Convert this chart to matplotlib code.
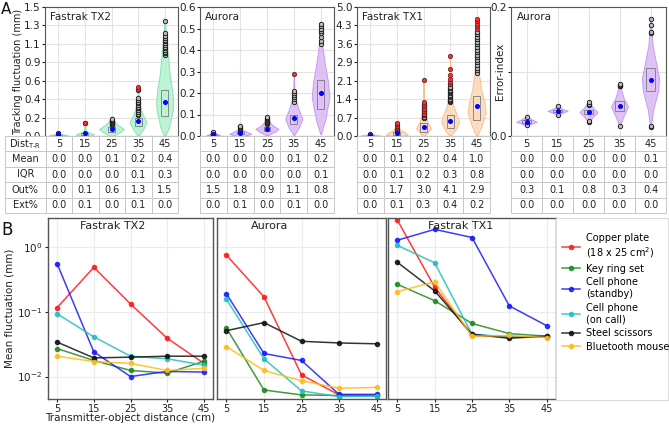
import numpy as np
import matplotlib
matplotlib.use('Agg')
import matplotlib.pyplot as plt
from matplotlib.patches import Rectangle

W, H = 669, 425

DIST = [5, 15, 25, 35, 45]
POS = [1, 2, 3, 4, 5]

# ---------------- panel A: violin shapes (y coords, relative half-width) ----------------
TX2_SHAPES = [
    ([0.0, 0.01, 0.02, 0.03], [0.3, 1.0, 0.4, 0.05]),
    ([0.0, 0.02, 0.04, 0.06, 0.15], [0.6, 1.0, 0.5, 0.1, 0.02]),
    ([0.0, 0.04, 0.08, 0.13, 0.18, 0.23], [0.1, 0.6, 1.0, 0.5, 0.15, 0.03]),
    ([0.0, 0.08, 0.16, 0.25, 0.35, 0.45, 0.57], [0.05, 0.6, 1.0, 0.55, 0.2, 0.06, 0.02]),
    ([0.0, 0.1, 0.3, 0.4, 0.55, 0.7, 0.9, 1.1, 1.34], [0.05, 0.5, 0.95, 1.0, 0.85, 0.6, 0.4, 0.2, 0.03]),
]
TX2_WIDTHS = [0.68, 0.68, 0.94, 0.64, 0.64]
TX2_BOX = [(0.0, 0.01), (0.01, 0.03), (0.05, 0.1), (0.12, 0.21), (0.23, 0.53)]
TX2_MEAN = [0.02, 0.03, 0.08, 0.175, 0.40]
TX2_OUT = [
    [0.03],
    [0.15],
    [0.13, 0.14, 0.15, 0.16, 0.17, 0.18, 0.19, 0.2],
    [0.24, 0.26, 0.28, 0.3, 0.32, 0.34, 0.36, 0.38, 0.4, 0.42, 0.44, 0.53],
    [0.94, 0.96, 0.98, 1.0, 1.02, 1.04, 1.06, 1.08, 1.1, 1.12, 1.14, 1.16, 1.2, 1.34],
]
TX2_EXT = [[], [0.15], [], [0.55, 0.57], []]

AUR_SHAPES = [
    ([0.0, 0.005, 0.01, 0.02], [0.4, 1.0, 0.4, 0.05]),
    ([0.0, 0.01, 0.02, 0.03, 0.045], [0.3, 1.0, 0.6, 0.15, 0.03]),
    ([0.005, 0.02, 0.033, 0.05, 0.07, 0.09], [0.1, 0.7, 1.0, 0.5, 0.15, 0.03]),
    ([0.005, 0.04, 0.08, 0.12, 0.17, 0.22, 0.29], [0.05, 0.6, 1.0, 0.6, 0.2, 0.05, 0.02]),
    ([0.01, 0.08, 0.18, 0.25, 0.33, 0.42, 0.52], [0.05, 0.55, 1.0, 0.85, 0.5, 0.2, 0.03]),
]
AUR_WIDTHS = [0.5, 0.82, 0.85, 0.64, 0.66]
AUR_BOX = [(0.003, 0.01), (0.01, 0.02), (0.025, 0.04), (0.055, 0.10), (0.125, 0.26)]
AUR_MEAN = [0.008, 0.015, 0.034, 0.083, 0.2]
AUR_OUT = [
    [0.012, 0.016, 0.02],
    [0.025, 0.03, 0.035, 0.04, 0.045],
    [0.055, 0.06, 0.065, 0.07, 0.075, 0.08, 0.085, 0.09],
    [0.16, 0.17, 0.18, 0.19, 0.2, 0.21],
    [0.43, 0.44, 0.46, 0.48, 0.49, 0.5, 0.51, 0.52],
]
AUR_EXT = [[], [], [], [0.29], []]

TX1_SHAPES = [
    ([0.0, 0.03, 0.06, 0.1], [0.4, 1.0, 0.3, 0.05]),
    ([0.0, 0.05, 0.12, 0.25, 0.4, 0.5], [0.5, 1.0, 0.8, 0.3, 0.1, 0.03]),
    ([0.0, 0.15, 0.3, 0.5, 0.8, 1.2, 1.6, 2.17], [0.05, 0.6, 1.0, 0.6, 0.25, 0.08, 0.03, 0.02]),
    ([0.0, 0.25, 0.55, 0.85, 1.2, 1.6, 2.2, 3.1], [0.05, 0.6, 1.0, 0.7, 0.35, 0.12, 0.04, 0.02]),
    ([0.0, 0.4, 0.9, 1.3, 1.8, 2.4, 3.0, 3.5, 4.5], [0.05, 0.55, 1.0, 0.85, 0.5, 0.25, 0.1, 0.04, 0.02]),
]
TX1_WIDTHS = [0.68, 0.82, 0.56, 0.68, 0.68]
TX1_BOX = [(0.01, 0.05), (0.05, 0.15), (0.17, 0.5), (0.3, 0.82), (0.63, 1.54)]
TX1_MEAN = [0.04, 0.13, 0.33, 0.6, 1.15]
TX1_OUT = [
    [0.07],
    [0.2, 0.25],
    [0.7, 0.75, 0.8, 0.85, 0.9, 0.95, 1.0, 1.05, 1.1, 1.15, 1.2],
    [1.3, 1.35, 1.4, 1.45, 1.5, 1.55, 1.6, 1.65, 1.7, 1.75, 1.8, 1.85, 1.9, 2.0],
    [2.45, 2.55, 2.65, 2.75, 2.85, 2.95, 3.05, 3.15, 3.25, 3.35, 3.45, 3.55, 3.65, 3.75, 3.85, 3.95, 4.05],
]
TX1_EXT = [
    [],
    [0.3, 0.35, 0.4, 0.45, 0.5],
    [0.85, 0.95, 1.05, 1.15, 1.25, 1.3, 2.17],
    [2.0, 2.1, 2.2, 2.35, 2.6, 3.1],
    [4.15, 4.25, 4.35, 4.45, 4.55],
]

ERR_SHAPES = [
    ([0.016, 0.019, 0.022, 0.026, 0.03], [0.05, 0.5, 1.0, 0.5, 0.05]),
    ([0.033, 0.036, 0.039, 0.042, 0.046], [0.05, 0.5, 1.0, 0.5, 0.05]),
    ([0.022, 0.03, 0.037, 0.044, 0.053], [0.05, 0.5, 1.0, 0.5, 0.05]),
    ([0.016, 0.03, 0.046, 0.06, 0.08], [0.03, 0.45, 1.0, 0.45, 0.03]),
    ([0.012, 0.04, 0.07, 0.09, 0.11, 0.14, 0.18], [0.03, 0.3, 0.9, 1.0, 0.7, 0.25, 0.03]),
]
ERR_WIDTHS = [0.65, 0.65, 0.58, 0.55, 0.55]
ERR_BOX = [(0.02, 0.025), (0.037, 0.041), (0.034, 0.041), (0.038, 0.055), (0.07, 0.105)]
ERR_MEAN = [0.022, 0.039, 0.037, 0.046, 0.087]
ERR_OUT = [
    [0.017, 0.029],
    [0.033, 0.047],
    [0.022, 0.024, 0.048, 0.05, 0.053],
    [0.016, 0.077, 0.078, 0.079, 0.08],
    [0.014, 0.015, 0.16, 0.162, 0.172, 0.182],
]
ERR_EXT = [[], [], [], [], []]

# table rows (Mean, IQR, Out%, Ext%)
ROW_NAMES = ['Mean', 'IQR', 'Out%', 'Ext%']
TX2_TAB = [[0.0, 0.0, 0.1, 0.2, 0.4], [0.0, 0.0, 0.0, 0.1, 0.3],
           [0.0, 0.1, 0.6, 1.3, 1.5], [0.0, 0.1, 0.0, 0.1, 0.0]]
AUR_TAB = [[0.0, 0.0, 0.0, 0.1, 0.2], [0.0, 0.0, 0.0, 0.0, 0.1],
           [1.5, 1.8, 0.9, 1.1, 0.8], [0.0, 0.1, 0.0, 0.1, 0.0]]
TX1_TAB = [[0.0, 0.1, 0.2, 0.4, 1.0], [0.0, 0.1, 0.2, 0.3, 0.8],
           [0.0, 1.7, 3.0, 4.1, 2.9], [0.0, 0.1, 0.3, 0.4, 0.2]]
ERR_TAB = [[0.0, 0.0, 0.0, 0.0, 0.1], [0.0, 0.0, 0.0, 0.0, 0.0],
           [0.3, 0.1, 0.8, 0.3, 0.4], [0.0, 0.0, 0.0, 0.0, 0.0]]

# ---------------- panel B: mean fluctuation (mm) ----------------
OBJECTS = ['Copper plate\n(18 x 25 cm$^2$)', 'Key ring set', 'Cell phone\n(standby)',
           'Cell phone\n(on call)', 'Steel scissors', 'Bluetooth mouse']
OBJ_COLORS = ['#ff1a1a', '#1f8a1f', '#1a1aff', '#1fbfbf', '#111111', '#ffbb1a']

B_TX2 = [
    [0.116, 0.485, 0.132, 0.039, 0.016],
    [0.027, 0.0177, 0.0124, 0.0113, 0.0172],
    [0.55, 0.024, 0.0100, 0.012, 0.0117],
    [0.093, 0.041, 0.0206, 0.0188, 0.015],
    [0.034, 0.0194, 0.0199, 0.0206, 0.0206],
    [0.0206, 0.017, 0.016, 0.0124, 0.0134],
]
B_AUR = [
    [0.75, 0.17, 0.0106, 0.0052, 0.0052],
    [0.056, 0.0062, 0.0052, 0.0051, 0.005],
    [0.19, 0.0227, 0.0177, 0.0053, 0.0053],
    [0.156, 0.0188, 0.006, 0.0049, 0.005],
    [0.051, 0.068, 0.035, 0.033, 0.032],
    [0.029, 0.0124, 0.0086, 0.0066, 0.0068],
]
B_TX1 = [
    [2.6, 0.24, 0.043, 0.041, 0.041],
    [0.265, 0.148, 0.066, 0.046, 0.042],
    [1.27, 1.87, 1.4, 0.123, 0.061],
    [1.06, 0.57, 0.045, 0.041, 0.041],
    [0.58, 0.21, 0.045, 0.039, 0.042],
    [0.204, 0.29, 0.042, 0.043, 0.040],
]

TXT = '#222222'
GRID = '#e3e3e3'
plt.rcParams['font.family'] = 'DejaVu Sans'


def px(l, t, r, b):
    return [l / W, 1 - b / H, (r - l) / W, (b - t) / H]


def violin_panel(ax, shapes, widths, box, means, out, ext, face, edge, title):
    stats = []
    for (c, v), m in zip(shapes, means):
        stats.append(dict(coords=np.array(c), vals=np.array(v), mean=m, median=m,
                          min=c[0], max=c[-1]))
    parts = ax.violin(stats, positions=POS, widths=widths, showmeans=False,
                      showextrema=False, showmedians=False)
    for b in parts['bodies']:
        b.set_facecolor(face)
        b.set_edgecolor(edge)
        b.set_alpha(0.85)
        b.set_linewidth(0.7)
        b.set_zorder(2)
    for p, (q1, q3) in zip(POS, box):
        ax.add_patch(Rectangle((p - 0.13, q1), 0.26, q3 - q1, fill=False,
                               ec='#777777', lw=0.6, zorder=3))
    for p, vals in zip(POS, out):
        ax.plot([p] * len(vals), vals, 'o', mfc='#bbbbbb', mec='#111111', ms=3.2, mew=0.6, zorder=4)
    for p, vals in zip(POS, ext):
        if vals:
            ax.plot([p] * len(vals), vals, 'o', mfc='#ff2a2a', mec='#552222', ms=3.2, mew=0.5, zorder=5)
    ax.plot(POS, means, 'o', color='blue', ms=2.6, zorder=6)
    ax.set_xlim(0.5, 5.5)
    ax.set_xticks(POS)
    ax.tick_params(axis='x', length=0, labelbottom=False)
    ax.tick_params(axis='y', labelsize=7.5, length=2, pad=1.2, colors=TXT)
    ax.grid(True, color=GRID, lw=0.8)
    ax.set_axisbelow(True)
    for s in ax.spines.values():
        s.set_color('#555555')
        s.set_linewidth(0.8)
    ax.text(0.04, 0.96, title, transform=ax.transAxes, va='top', ha='left', fontsize=7.5, color=TXT)


def draw_table(rect, rows, with_labels):
    tax = fig.add_axes(rect)
    tax.axis('off')
    cells = [[str(d) for d in DIST]] + [[f'{v:.1f}' for v in r] for r in rows]
    if with_labels:
        labels = [r'Dist$_\mathregular{T\text{-}R}$'] + ROW_NAMES
        cells = [[lab] + row for lab, row in zip(labels, cells)]
        cw = [41] + [26.6] * 5
    else:
        cw = [1] * 5
    tab = tax.table(cellText=cells, bbox=[0, 0, 1, 1], cellLoc='center', colWidths=cw)
    tab.auto_set_font_size(False)
    for (r, c), cell in tab.get_celld().items():
        cell.set_edgecolor('#c8c8c8')
        cell.set_linewidth(0.7)
        cell.set_text_props(fontsize=7, color=TXT)
        if with_labels and c == 0:
            cell._loc = 'left'
            cell.PAD = 0.05


fig = plt.figure(figsize=(W / 100, H / 100), dpi=100)

# ---- panel A ----
ax1 = fig.add_axes(px(45, 7, 178, 136))
violin_panel(ax1, TX2_SHAPES, TX2_WIDTHS, TX2_BOX, TX2_MEAN, TX2_OUT, TX2_EXT,
             '#b2f2cf', '#7fdca8', 'Fastrak TX2')
ax1.set_ylim(0, 1.5)
ax1.set_yticks(np.linspace(0, 1.5, 8))
ax1.set_yticklabels([f'{t:.1f}' for t in np.linspace(0, 1.5, 8)])
ax1.set_ylabel('Tracking fluctuation (mm)', fontsize=7, color=TXT)
ax1.yaxis.set_label_coords(-0.168, 0.5)

ax2 = fig.add_axes(px(200, 7, 334, 136))
violin_panel(ax2, AUR_SHAPES, AUR_WIDTHS, AUR_BOX, AUR_MEAN, AUR_OUT, AUR_EXT,
             '#dcb8f7', '#c090ea', 'Aurora')
ax2.set_ylim(0, 0.6)
ax2.set_yticks(np.linspace(0, 0.6, 7))
ax2.set_yticklabels([f'{t:.1f}' for t in np.linspace(0, 0.6, 7)])

ax3 = fig.add_axes(px(357, 7, 490, 136))
violin_panel(ax3, TX1_SHAPES, TX1_WIDTHS, TX1_BOX, TX1_MEAN, TX1_OUT, TX1_EXT,
             '#fdd8b8', '#f5b888', 'Fastrak TX1')
ax3.set_ylim(0, 5.0)
ax3.set_yticks(np.linspace(0, 5.0, 8))
ax3.set_yticklabels([f'{t:.1f}' for t in np.linspace(0, 5.0, 8)])

ax4 = fig.add_axes(px(511, 7, 666, 136))
violin_panel(ax4, ERR_SHAPES, ERR_WIDTHS, ERR_BOX, ERR_MEAN, ERR_OUT, ERR_EXT,
             '#dcb8f7', '#c090ea', 'Aurora')
ax4.set_ylim(0, 0.2)
ax4.set_yticks([0, 0.1, 0.2])
ax4.set_yticklabels(['0.0', '', '0.2'])
ax4.set_ylabel('Error-index', fontsize=7.5, color=TXT)
ax4.yaxis.set_label_coords(-0.04, 0.5)

draw_table(px(5, 136, 178, 213), TX2_TAB, True)
draw_table(px(200, 136, 334, 213), AUR_TAB, False)
draw_table(px(357, 136, 490, 213), TX1_TAB, False)
draw_table(px(511, 136, 666, 213), ERR_TAB, False)

# ---- panel B ----
b_rects = [px(48, 218, 213, 399), px(217, 218, 386, 399), px(388, 218, 556, 399)]
b_data = [B_TX2, B_AUR, B_TX1]
b_titles = ['Fastrak TX2', 'Aurora', 'Fastrak TX1']
b_title_x = [0.39, 0.31, 0.43]
b_axes = []
for i, (rect, data, title) in enumerate(zip(b_rects, b_data, b_titles)):
    ax = fig.add_axes(rect)
    for vals, col, lab in zip(data, OBJ_COLORS, OBJECTS):
        ax.plot(DIST, vals, '-o', color=col, lw=1.1, ms=3, alpha=0.85, label=lab)
    ax.set_yscale('log')
    ax.set_ylim(0.0045, 2.8)
    ax.set_xlim(2.5, 47.5)
    ax.set_xticks(DIST)
    ax.set_yticks([0.01, 0.1, 1.0])
    ax.minorticks_off()
    ax.grid(True, color='#ececec', lw=0.8)
    ax.set_axisbelow(True)
    ax.tick_params(labelsize=7.5, colors=TXT, length=2.5, pad=1.5)
    ax.tick_params(axis='x', labelsize=7, pad=1)
    if i > 0:
        ax.tick_params(axis='y', labelleft=False, length=0)
    for s in ax.spines.values():
        s.set_color('#555555')
        s.set_linewidth(1.0)
    ax.text(b_title_x[i], 0.985, title, transform=ax.transAxes, ha='center', va='top',
            fontsize=8, color=TXT)
    b_axes.append(ax)

b_axes[0].set_ylabel('Mean fluctuation (mm)', fontsize=7.5, color=TXT, labelpad=2)
b_axes[0].set_xlabel('Transmitter-object distance (cm)', fontsize=7.5, color=TXT)
b_axes[0].xaxis.set_label_coords(0.5, -0.075)

lax = fig.add_axes(px(556, 218, 668, 400))
lax.set_xticks([])
lax.set_yticks([])
for s in lax.spines.values():
    s.set_color('#dddddd')
h, l = b_axes[2].get_legend_handles_labels()
lax.legend(h, l, loc='upper left', bbox_to_anchor=(0.0, 0.95), frameon=False, fontsize=7,
           handlelength=1.9, handletextpad=0.6, labelspacing=0.38, borderaxespad=0.2)

fig.text(0.002, 0.995, 'A', fontsize=11, va='top', ha='left', color='#111111')
fig.text(0.002, 1 - 221 / H, 'B', fontsize=12, va='top', ha='left', color='#111111')

fig.savefig('out.png', dpi=100)
